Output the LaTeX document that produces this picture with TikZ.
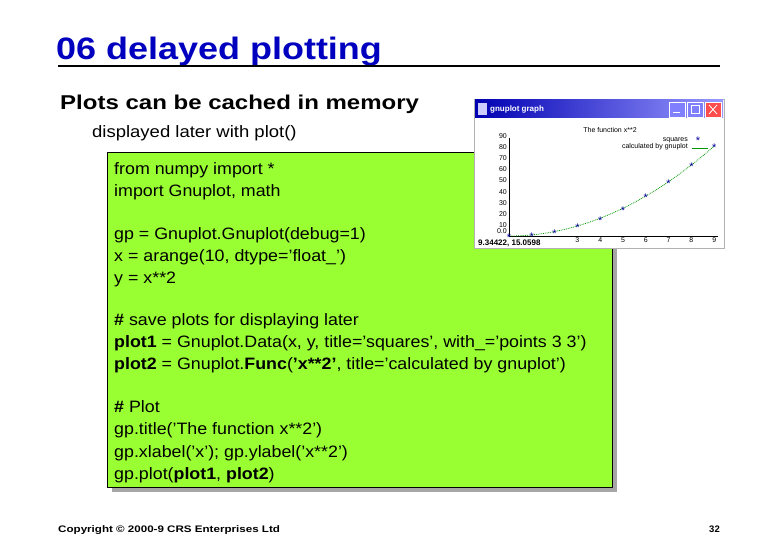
\documentclass[tikz,border=0pt]{standalone}
\usepackage{fontspec}
\setmainfont{Liberation Sans}[Ligatures=ResetAll]
\newcommand{\sq}{'}
\begin{document}
\begin{tikzpicture}[x=1pt,y=-1pt,
  code/.style={anchor=base west,inner sep=0pt,xscale=1.08,font=\fontsize{16.5}{18}\selectfont},
  tick/.style={inner sep=0pt,font=\fontsize{7}{8}\selectfont},
  pt/.style={inner sep=0pt,text=blue!60!black,font=\fontsize{11}{11}\selectfont}]
\useasboundingbox (0,0) rectangle (780,540);
\definecolor{titleblue}{RGB}{0,0,190}
\definecolor{codegreen}{RGB}{153,255,51}
\node[anchor=base west,inner sep=0pt,xscale=1.16,text=titleblue,font=\bfseries\fontsize{31}{32}\selectfont] (title) at (56,60) {06 delayed plotting};
\draw[line width=1.3pt] (58,66) -- (720,66);
\node[anchor=base west,inner sep=0pt,xscale=1.2,font=\bfseries\fontsize{20}{20}\selectfont] (sub) at (60,110) {Plots can be cached in memory};
\node[anchor=base west,inner sep=0pt,xscale=1.12,font=\fontsize{16.5}{18}\selectfont] (sub2) at (92,138) {displayed later with plot()};
% code box
\fill[gray!70] (112,157) rectangle (617,492);
\draw[fill=codegreen] (107,152) rectangle (612,487);
\node[code] at (114,175) {from numpy import *};
\node[code] at (114,197) {import Gnuplot, math};
\node[code] at (114,240) {gp = Gnuplot.Gnuplot(debug=1)};
\node[code] at (114,262) {x = arange(10, dtype=\sq float\_\sq)};
\node[code] at (114,284) {y = x**2};
\node[code] at (114,326) {\textbf{\#} save plots for displaying later};
\node[code] at (114,348) {\textbf{plot1} = Gnuplot.Data(x, y, title=\sq squares\sq, with\_=\sq points 3 3\sq)};
\node[code] at (114,370) {\textbf{plot2} = Gnuplot.\textbf{Func}(\textbf{\sq x**2\sq}, title=\sq calculated by gnuplot\sq)};
\node[code] at (114,413) {\textbf{\#} Plot};
\node[code] at (114,435) {gp.title(\sq The function x**2\sq)};
\node[code] at (114,457) {gp.xlabel(\sq x\sq); gp.ylabel(\sq x**2\sq)};
\node[code] at (114,479) {gp.plot(\textbf{plot1}, \textbf{plot2})};
% gnuplot window
\draw[gray!60,fill=white] (474,99) rectangle (724,248);
\shade[left color=blue!70!black,right color=blue!40] (475,100) rectangle (723,118);
\node[anchor=west,inner sep=0pt,text=white,font=\bfseries\fontsize{8}{9}\selectfont] (wt) at (490,109) {gnuplot graph};
\fill[white!80!blue] (478,103) rectangle (487,115);
\foreach \xx/\cc in {669/blue!50, 687/blue!50, 705/red!70} {
  \draw[white,fill=\cc] (\xx,102) rectangle ++(16,15);}
\draw[white,thick] (673,112) -- (680,112);
\draw[white,thick] (691,105) rectangle (699,113);
\draw[white,thick] (709,105) -- (717,114) (717,105) -- (709,114);
% plot
\draw (509,138) -- (509,236) -- (718,236);
\foreach \v/\l in {1/10,2/20,3/30,4/40,5/50,6/60,7/70,8/80,9/90}
  \node[tick,anchor=east] at (507,{236-\v*11.1}) {\l};
\node[tick,anchor=east] at (507,231) {0.0};
\foreach \v in {3,...,9} \node[tick] at ({509+\v*22.8},240) {\v};
\node[tick,anchor=west,font=\bfseries\fontsize{8}{9}\selectfont] at (478,243) {9.34422, 15.0598};
\node[tick] at (610,130) {The function x**2};
\node[tick,anchor=east] at (688,140) {squares};
\node[tick,anchor=east] at (688,147) {calculated by gnuplot};
\node[pt] at (698,141) {*};
\draw[green!60!black] (692,148) -- (708,148);
\draw[green!60!black,densely dotted,thick] plot[domain=0:9,samples=40] ({509+\x*22.8},{236-\x*\x*1.11});
\foreach \v in {0,...,9} \node[pt] at ({509+\v*22.8},{238-\v*\v*1.11}) {*};
% footer
\node[anchor=base west,inner sep=0pt,xscale=1.22,font=\bfseries\fontsize{9.5}{10}\selectfont] (copy) at (58,532) {Copyright \textcopyright{} 2000-9 CRS Enterprises Ltd};
\node[anchor=base east,inner sep=0pt,font=\bfseries\fontsize{9.5}{10}\selectfont] (num) at (720,532) {32};
\end{tikzpicture}
\end{document}
